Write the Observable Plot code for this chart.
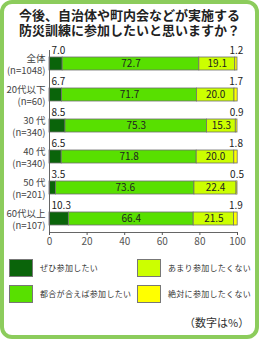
<!DOCTYPE html>
<html><head><meta charset="utf-8">
<script src="https://cdn.jsdelivr.net/npm/d3@7"></script>
<script src="https://cdn.jsdelivr.net/npm/@observablehq/plot@0.6"></script>
<style>
body{margin:0;background:#fff;}
#wrap{position:relative;width:259px;height:339px;background:#fff;font-family:"Noto Sans CJK JP","Noto Sans",sans-serif;overflow:hidden;color:#333}
#border{position:absolute;left:0;top:0;width:259px;height:339px;box-sizing:border-box;border:4px solid #8ccc5c;border-radius:12px;pointer-events:none;z-index:5}
#title{position:absolute;left:0;top:7px;width:259px;text-align:center;font-weight:bold;font-size:13px;line-height:15px;color:#222}
#chart{position:absolute;left:0;top:40px}
.sw{position:absolute;width:22px;height:16px;border:1px solid #777}
.lt{position:absolute;font-size:8px;line-height:12px;color:#333;white-space:nowrap;letter-spacing:0.3px}
#note{position:absolute;left:184px;top:314px;font-size:11px;color:#333}
</style></head>
<body><div id="wrap"><div id="border"></div><div id="title">今後、自治体や町内会などが実施する<br>防災訓練に参加したいと思いますか？</div><div id="chart"></div><div id="legend"></div><div id="note">（数字は%）</div></div>
<script>
const groups = ["全体","20代以下","30 代","40 代","50 代","60代以上"];
const ns = ["(n=1048)","(n=60)","(n=340)","(n=340)","(n=201)","(n=107)"];
const answers = ["ぜひ参加したい","都合が合えば参加したい","あまり参加したくない","絶対に参加したくない"];
const strong = [7.0,6.7,8.5,6.5,3.5,10.3];
const ifPossible = [72.7,71.7,75.3,71.8,73.6,66.4];
const notMuch = [19.1,20.0,15.3,20.0,22.4,21.5];
const never = [1.2,1.7,0.9,1.8,0.5,1.9];
const colors = ["#0a640a","#58e000","#ccff00","#ffff00"];
const xTicks = [0,20,40,60,80,100];

const series = [strong, ifPossible, notMuch, never];
const rows = [];
groups.forEach((g, i) => {
  let acc = 0;
  series.forEach((s, j) => {
    const v = s[i];
    rows.push({group: g, answer: answers[j], j, value: v, x1: acc, x2: acc + v, mid: acc + v / 2});
    acc += v;
  });
});
const nOf = Object.fromEntries(groups.map((g, i) => [g, ns[i]]));

const plot = Plot.plot({
  width: 259, height: 210,
  marginLeft: 49, marginRight: 22, marginTop: 10, marginBottom: 18,
  style: {fontFamily: '"Noto Sans CJK JP","Noto Sans",sans-serif', background: "transparent"},
  x: {domain: [0, 100], axis: null},
  y: {domain: groups, paddingInner: 0.58, paddingOuter: 0.225, axis: null, label: null},
  color: {domain: answers, range: colors},
  marks: [
    Plot.barX(rows, {x1: "x1", x2: "x2", y: "group", fill: "answer", stroke: "#6e6e6e", strokeWidth: 0.8}),
    Plot.text(rows.filter(d => d.j === 1 || d.j === 2), {x: "mid", y: "group", text: d => d.value.toFixed(1), fontSize: 10, fill: "#222"}),
    Plot.text(rows.filter(d => d.j === 0), {x: "x1", y: "group", text: d => d.value.toFixed(1), fontSize: 10, fill: "#222", textAnchor: "start", dx: 2, dy: -13.5}),
    Plot.ruleX(rows.filter(d => d.j === 0), {x: "mid", y: "group", stroke: "#444", insetTop: -3, insetBottom: 9}),
    Plot.text(rows.filter(d => d.j === 3), {x: "mid", y: "group", text: d => d.value.toFixed(1), fontSize: 10, fill: "#222", dy: -13.5}),
    Plot.ruleX(rows.filter(d => d.j === 3), {x: "mid", y: "group", stroke: "#444", insetTop: -3, insetBottom: 9}),
    Plot.ruleX([0], {stroke: "#666"}),
    Plot.frame({anchor: "bottom", stroke: "#666"}),
    Plot.axisX(xTicks, {tickSize: 3, tickPadding: 2, fontSize: 10, color: "#555", tickFormat: d => d, label: null}),
    Plot.text(groups, {y: d => d, frameAnchor: "left", textAnchor: "end", dx: -4, fontSize: 9.5, fill: "#444", lineHeight: 1.26, text: g => g + "\n" + nOf[g]})
  ]
});
document.getElementById("chart").appendChild(plot);

const legend = document.getElementById("legend");
const pos = [[9, 259], [9, 285], [137, 259], [137, 285]];
answers.forEach((a, j) => {
  const [x, y] = pos[j];
  const sw = document.createElement("div");
  sw.className = "sw";
  sw.style.left = x + "px"; sw.style.top = y + "px"; sw.style.background = colors[j];
  legend.appendChild(sw);
  const t = document.createElement("div");
  t.className = "lt";
  t.style.left = (x + 31) + "px"; t.style.top = (y + 3) + "px";
  t.textContent = a;
  legend.appendChild(t);
});
</script></body></html>
